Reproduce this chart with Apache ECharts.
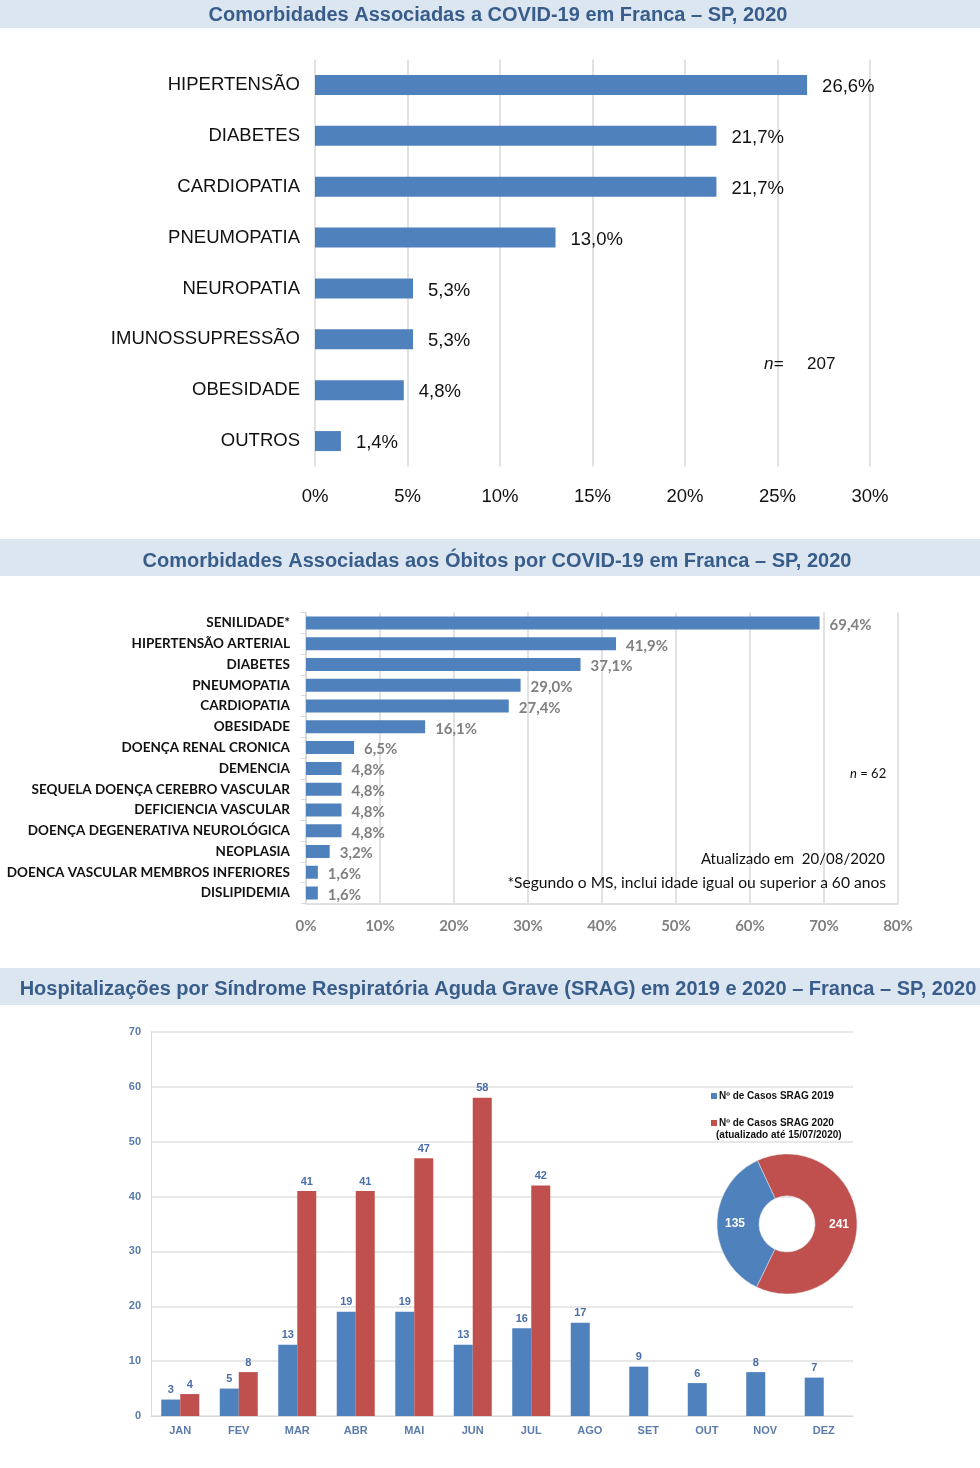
<!DOCTYPE html>
<html>
<head>
<meta charset="utf-8">
<script src="https://cdn.jsdelivr.net/npm/echarts@6/dist/echarts.min.js"></script>
<style>html,body{margin:0;padding:0;background:#fff}#c{width:980px;height:1468px}</style>
</head>
<body>
<div id="c"></div>
<script>
// Chart 1 data
const cat1 = ['HIPERTENSÃO','DIABETES','CARDIOPATIA','PNEUMOPATIA','NEUROPATIA','IMUNOSSUPRESSÃO','OBESIDADE','OUTROS'];
const val1 = [26.6, 21.7, 21.7, 13.0, 5.3, 5.3, 4.8, 1.4];
const ticks1 = ['0%','5%','10%','15%','20%','25%','30%'];
// Chart 2 data
const cat2 = ['SENILIDADE*','HIPERTENSÃO ARTERIAL','DIABETES','PNEUMOPATIA','CARDIOPATIA','OBESIDADE','DOENÇA RENAL CRONICA','DEMENCIA','SEQUELA DOENÇA CEREBRO VASCULAR','DEFICIENCIA VASCULAR','DOENÇA DEGENERATIVA NEUROLÓGICA','NEOPLASIA','DOENCA VASCULAR MEMBROS INFERIORES','DISLIPIDEMIA'];
const val2 = [69.4, 41.9, 37.1, 29.0, 27.4, 16.1, 6.5, 4.8, 4.8, 4.8, 4.8, 3.2, 1.6, 1.6];
// Chart 3 data
const months = ['JAN','FEV','MAR','ABR','MAI','JUN','JUL','AGO','SET','OUT','NOV','DEZ'];
const srag2019 = [3, 5, 13, 19, 19, 13, 16, 17, 9, 6, 8, 7];
const srag2020 = [4, 8, 41, 41, 47, 58, 42, null, null, null, null, null];
const totals = [{name:'2020', value:241}, {name:'2019', value:135}];

const BLUE = '#4f81bd', RED = '#c0504d', BAND = '#dce6f1', TITLE = '#385d8a';
const pct = v => v.toFixed(1).replace('.', ',') + '%';

const chart = echarts.init(document.getElementById('c'), null, {renderer:'canvas'});
const titleStyle = {fontFamily:'Liberation Sans', fontWeight:'bold', fontSize:20, color:TITLE};

chart.setOption({
  animation:false,
  backgroundColor:'#fff',
  graphic:[
    {type:'rect', shape:{x:0,y:0,width:980,height:28}, style:{fill:BAND}, z:-10},
    {type:'rect', shape:{x:0,y:539,width:980,height:37}, style:{fill:BAND}, z:-10},
    {type:'rect', shape:{x:0,y:968,width:980,height:37}, style:{fill:BAND}, z:-10},
    {type:'text', left:716, top:1130, style:{text:'(atualizado até 15/07/2020)', fontFamily:'Liberation Sans', fontWeight:'bold', fontSize:10, fill:'#111'}}
  ],
  title:[
    {text:'Comorbidades Associadas a COVID-19 em Franca – SP, 2020', left:493, top:0, textAlign:'center', textStyle:titleStyle},
    {text:'Comorbidades Associadas aos Óbitos por COVID-19 em Franca – SP, 2020', left:492, top:546, textAlign:'center', textStyle:titleStyle},
    {text:'Hospitalizações por Síndrome Respiratória Aguda Grave (SRAG) em 2019 e 2020 – Franca – SP, 2020', left:493, top:974, textAlign:'center', textStyle:titleStyle},
    {text:'{i|n=}     207', left:759, top:351, textStyle:{fontFamily:'Liberation Sans', fontWeight:'normal', fontSize:17, color:'#111', rich:{i:{fontStyle:'italic', fontWeight:'normal', fontFamily:'Liberation Sans', fontSize:17, color:'#111'}}}},
    {text:'{i|n} = 62', left:845, top:762, textStyle:{fontFamily:'Lato', fontWeight:'normal', fontSize:13, color:'#111', rich:{i:{fontStyle:'italic', fontWeight:'normal', fontFamily:'Lato', fontSize:13, color:'#111'}}}},
    {text:'Atualizado em  20/08/2020', right:90, top:847, textStyle:{fontFamily:'Lato', fontWeight:'normal', fontSize:15, color:'#111'}},
    {text:'*Segundo o MS, inclui idade igual ou superior a 60 anos', right:89, top:870, textStyle:{fontFamily:'Lato', fontWeight:'normal', fontSize:15.6, color:'#111'}}
  ],
  legend:{
    left:706, top:1086, orient:'vertical', itemWidth:6, itemHeight:6, itemGap:17,
    icon:'rect', data:['Nº de Casos SRAG 2019','Nº de Casos SRAG 2020'],
    textStyle:{fontFamily:'Liberation Sans', fontWeight:'bold', fontSize:10, color:'#111', padding:[0,0,0,-3]}
  },
  grid:[
    {left:315, top:59.5, width:555, height:407},
    {left:306, top:612.6, width:592, height:290.8},
    {left:151, top:1032, width:702, height:384}
  ],
  xAxis:[
    {gridIndex:0, type:'value', min:0, max:30, interval:5,
     axisLine:{show:false}, axisTick:{show:false},
     splitLine:{lineStyle:{color:'#d9d9d9', width:1.5}},
     axisLabel:{margin:21, formatter:(v)=>ticks1[v/5], fontFamily:'Liberation Sans', fontSize:18.5, color:'#111'}},
    {gridIndex:1, type:'value', min:0, max:80, interval:10,
     axisLine:{show:true, lineStyle:{color:'#d9d9d9', width:1.5}}, axisTick:{show:false},
     splitLine:{lineStyle:{color:'#d9d9d9', width:1.5}},
     axisLabel:{margin:15, formatter:'{value}%', fontFamily:'Lato', fontWeight:'bold', fontSize:15, color:'#808080'}},
    {gridIndex:2, type:'category', data:months,
     axisLine:{lineStyle:{color:'#d9d9d9'}}, axisTick:{show:false},
     axisLabel:{margin:9, fontFamily:'Liberation Sans', fontWeight:'bold', fontSize:11, color:'#5b7bab'}}
  ],
  yAxis:[
    {gridIndex:0, type:'category', data:cat1, inverse:true,
     axisLine:{show:false}, axisTick:{show:false},
     axisLabel:{margin:15, fontFamily:'Liberation Sans', fontSize:18.5, color:'#111'}},
    {gridIndex:1, type:'category', data:cat2, inverse:true,
     axisLine:{show:true, lineStyle:{color:'#d9d9d9', width:1.5}}, axisTick:{show:true, length:5, lineStyle:{color:'#d9d9d9'}},
     axisLabel:{margin:16, fontFamily:'Lato', fontWeight:'bold', fontSize:13.5, color:'#111'}},
    {gridIndex:2, type:'value', min:0, max:70, interval:10,
     axisLine:{show:true, lineStyle:{color:'#d9d9d9'}},
     splitLine:{lineStyle:{color:'#e0e0e0', width:1.5}},
     axisLabel:{margin:10, fontFamily:'Liberation Sans', fontWeight:'bold', fontSize:11, color:'#5b7bab'}}
  ],
  series:[
    {type:'bar', xAxisIndex:0, yAxisIndex:0, data:val1, barWidth:20, itemStyle:{color:BLUE},
     label:{show:true, position:'right', distance:15, offset:[0,2], formatter:p=>pct(p.value), fontFamily:'Liberation Sans', fontSize:18.5, color:'#111'}},
    {type:'bar', xAxisIndex:1, yAxisIndex:1, data:val2, barWidth:13, itemStyle:{color:BLUE},
     label:{show:true, position:'right', distance:10, offset:[0,2], formatter:p=>pct(p.value), fontFamily:'Lato', fontWeight:'bold', fontSize:15, color:'#808080'}},
    {name:'Nº de Casos SRAG 2019', type:'bar', xAxisIndex:2, yAxisIndex:2, data:srag2019, barWidth:19, barGap:'0%', itemStyle:{color:BLUE},
     label:{show:true, position:'top', distance:4, fontFamily:'Liberation Sans', fontWeight:'bold', fontSize:11, color:'#4a6ea8'}},
    {name:'Nº de Casos SRAG 2020', type:'bar', xAxisIndex:2, yAxisIndex:2, data:srag2020, barWidth:19, barGap:'0%', itemStyle:{color:RED},
     label:{show:true, position:'top', distance:4, fontFamily:'Liberation Sans', fontWeight:'bold', fontSize:11, color:'#4a6ea8'}},
    {type:'pie', center:[787,1224], radius:[28,70], startAngle:115, clockwise:true,
     data:[{name:totals[0].name, value:totals[0].value, itemStyle:{color:RED}}, {name:totals[1].name, value:totals[1].value, itemStyle:{color:BLUE}}],
     itemStyle:{borderColor:'#e8e8e8', borderWidth:0.5},
     label:{show:true, position:'inside', formatter:'{c}', fontFamily:'Liberation Sans', fontWeight:'bold', fontSize:12, color:'#fff'},
     labelLine:{show:false}, emphasis:{disabled:true}, legendHoverLink:false}
  ]
});
</script>
</body>
</html>
